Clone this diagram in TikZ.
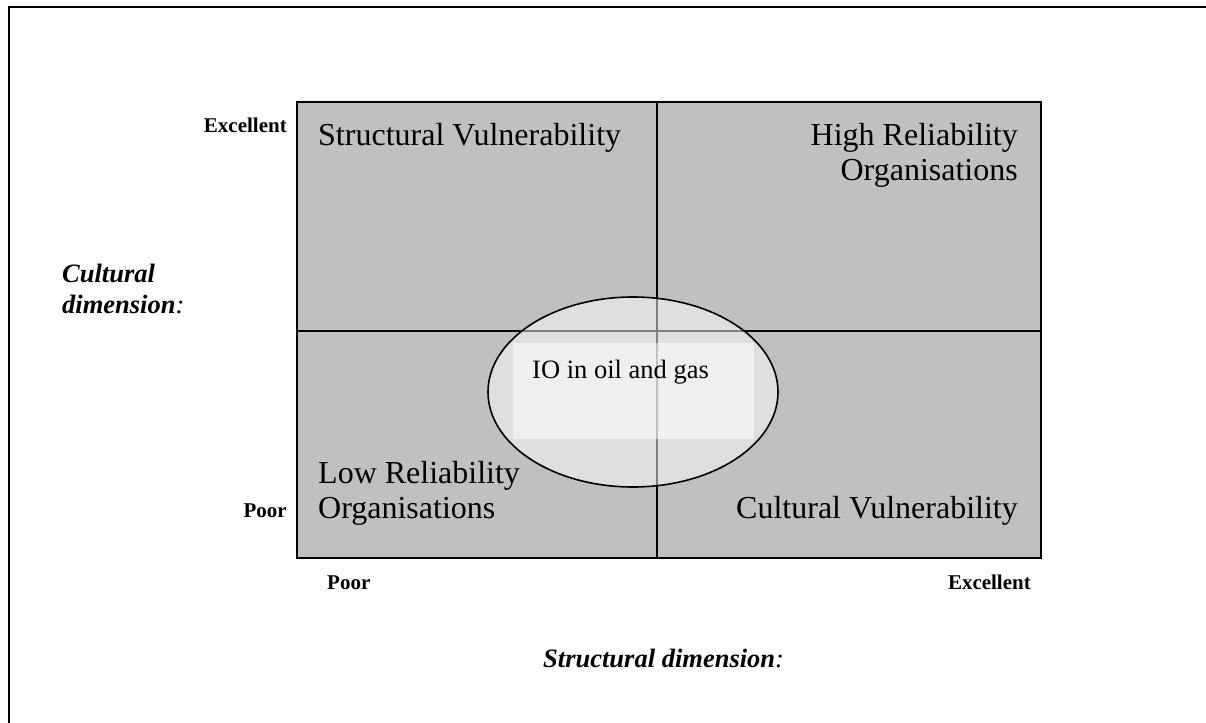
\documentclass[tikz,border=0pt]{standalone}
\usepackage{fontspec}
\setmainfont{Liberation Serif}
\usetikzlibrary{shapes.geometric}
\definecolor{cellgray}{HTML}{C0C0C0}
\tikzset{
  big/.style={inner sep=0pt, font=\fontsize{32}{36}\selectfont},
  tick/.style={inner sep=0pt, font=\fontsize{21}{24}\selectfont\bfseries},
  axis/.style={inner sep=0pt, font=\fontsize{26.5}{30}\selectfont\bfseries\itshape},
  grid line/.style={line width=2pt, black},
}
\begin{document}
\begin{tikzpicture}[x=1pt,y=-1pt]
\useasboundingbox (0,0) rectangle (1206,722);
% outer frame (runs off the right and bottom edge)
\draw[line width=2.5pt] (9,7) rectangle (1240,760);

% the four cells
\fill[cellgray] (297,102.5) rectangle (1041,558);
\coordinate (tl) at (297,102.5);
\coordinate (br) at (1041,558);
\coordinate (mt) at (657,102.5);
\coordinate (mb) at (657,558);
\coordinate (ml) at (297,330.5);
\coordinate (mr) at (1041,330.5);
\draw[grid line] (mt) -- (mb);
\draw[grid line] (ml) -- (mr);
\draw[grid line] (tl) rectangle (br);

% translucent ellipse and its text box
\node[ellipse, draw=black, line width=1.6pt, fill=white, fill opacity=0.5,
      minimum width=290pt, minimum height=190pt, inner sep=0pt] (io) at (633,392) {};
\fill[white, fill opacity=0.5] (513,343) rectangle (754,439);
\node[inner sep=0pt, anchor=base west, font=\fontsize{26.5}{30}\selectfont] (iotext) at (532,378) {IO in oil and gas};

% cell labels
\node[big, anchor=base west] (sv) at (318,146) {Structural Vulnerability};
\node[big, anchor=base east] (hro1) at (1018,146) {High Reliability};
\node[big, anchor=base east] (hro2) at (1018,181) {Organisations};
\node[big, anchor=base west] (lro1) at (318,483) {Low Reliability};
\node[big, anchor=base west] (lro2) at (318,518) {Organisations};
\node[big, anchor=base east] (cv) at (1018,518) {Cultural Vulnerability};

% axis ticks
\node[tick, anchor=base east] (yex) at (287,133) {Excellent};
\node[tick, anchor=base east] (ypo) at (287,517) {Poor};
\node[tick, anchor=base west] (xpo) at (327,589) {Poor};
\node[tick, anchor=base east] (xex) at (1031,589) {Excellent};

% axis titles
\node[axis, anchor=base west] (ct1) at (62,282) {Cultural};
\node[axis, anchor=base west] (ct2) at (62,313) {dimension\textmd{:}};
\node[axis, anchor=base west] (st) at (543,667) {Structural dimension\textmd{:}};
\end{tikzpicture}
\end{document}
